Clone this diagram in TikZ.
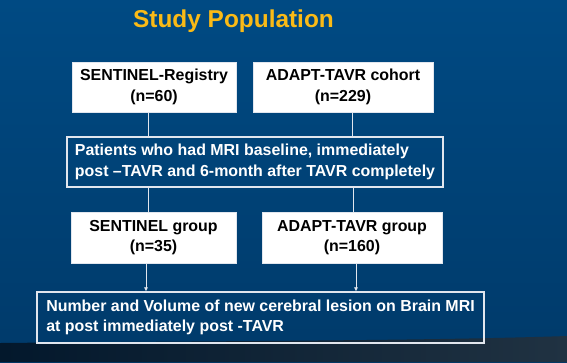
\documentclass[tikz,border=0pt]{standalone}
\usepackage{fontspec}
\setmainfont{Liberation Sans}
\usepackage{xcolor}
\usetikzlibrary{arrows.meta,positioning,calc}
\definecolor{slidetop}{RGB}{0,74,131}
\definecolor{slidebot}{RGB}{0,58,106}
\definecolor{stripleft}{RGB}{3,24,44}
\definecolor{stripright}{RGB}{32,50,66}
\definecolor{titlegold}{RGB}{250,186,22}
\definecolor{linegray}{RGB}{225,230,238}

\begin{document}
\begin{tikzpicture}[x=1bp,y=-1bp,
  whitebox/.style={draw=linegray,fill=white,line width=0.6pt,align=center,
    font=\bfseries\fontsize{16}{20.5}\selectfont,text=black},
  framebox/.style={draw=linegray,line width=1.2pt,align=left,
    font=\bfseries\fontsize{16}{21.5}\selectfont,text=white},
  link/.style={draw=linegray,line width=0.6pt}]
% slide background
\shade[top color=slidetop,bottom color=slidebot] (0,0) rectangle (567,362);
\shade[left color=stripleft,right color=stripright]
  (0,343) .. controls (200,341) and (420,341) .. (567,336) -- (567,362) -- (0,362) -- cycle;
\useasboundingbox (0,0) rectangle (567,362);

\node[font=\bfseries\fontsize{24.5}{28}\selectfont,text=titlegold] (title) at (233.5,21) {Study Population};

% sources
\node[whitebox,minimum width=164bp,minimum height=50bp] (registry) at (154,87) {SENTINEL-Registry\\(n=60)};
\node[whitebox,minimum width=180bp,minimum height=50bp] (cohort) at (343,87) {ADAPT-TAVR cohort\\(n=229)};

\node[framebox,minimum width=376bp,minimum height=50bp] (mri) at (255,162)
  {Patients who had MRI baseline, immediately\\post --TAVR and 6-month after TAVR completely};

% groups
\node[whitebox,minimum width=165bp,minimum height=51bp] (sentinel) at (153.5,237.5) {SENTINEL group\\(n=35)};
\node[whitebox,minimum width=180bp,minimum height=51bp] (adapt) at (352,237.5) {ADAPT-TAVR group\\(n=160)};

\node[framebox,minimum width=447bp,minimum height=51bp,font=\bfseries\fontsize{16}{20}\selectfont] (lesion) at (260.5,317.5)
  {Number and Volume of new cerebral lesion on Brain MRI\\at post immediately post -TAVR};

\draw[link] ([xshift=-6bp]registry.south) -- ([xshift=-6bp]registry.south |- mri.north);
\draw[link] ([xshift=9bp]cohort.south) -- ([xshift=9bp]cohort.south |- mri.north);
\draw[link] ([xshift=-5.5bp]sentinel.north |- mri.south) -- ([xshift=-5.5bp]sentinel.north);
\draw[link] ([xshift=1bp]adapt.north |- mri.south) -- ([xshift=1bp]adapt.north);
\draw[link,-{Latex[length=4bp,width=4bp]}] ([xshift=-7.5bp]sentinel.south) -- ([xshift=-7.5bp]sentinel.south |- lesion.north);
\draw[link,-{Latex[length=4bp,width=4bp]}] ([xshift=4bp]adapt.south) -- ([xshift=4bp]adapt.south |- lesion.north);
\end{tikzpicture}
\end{document}
